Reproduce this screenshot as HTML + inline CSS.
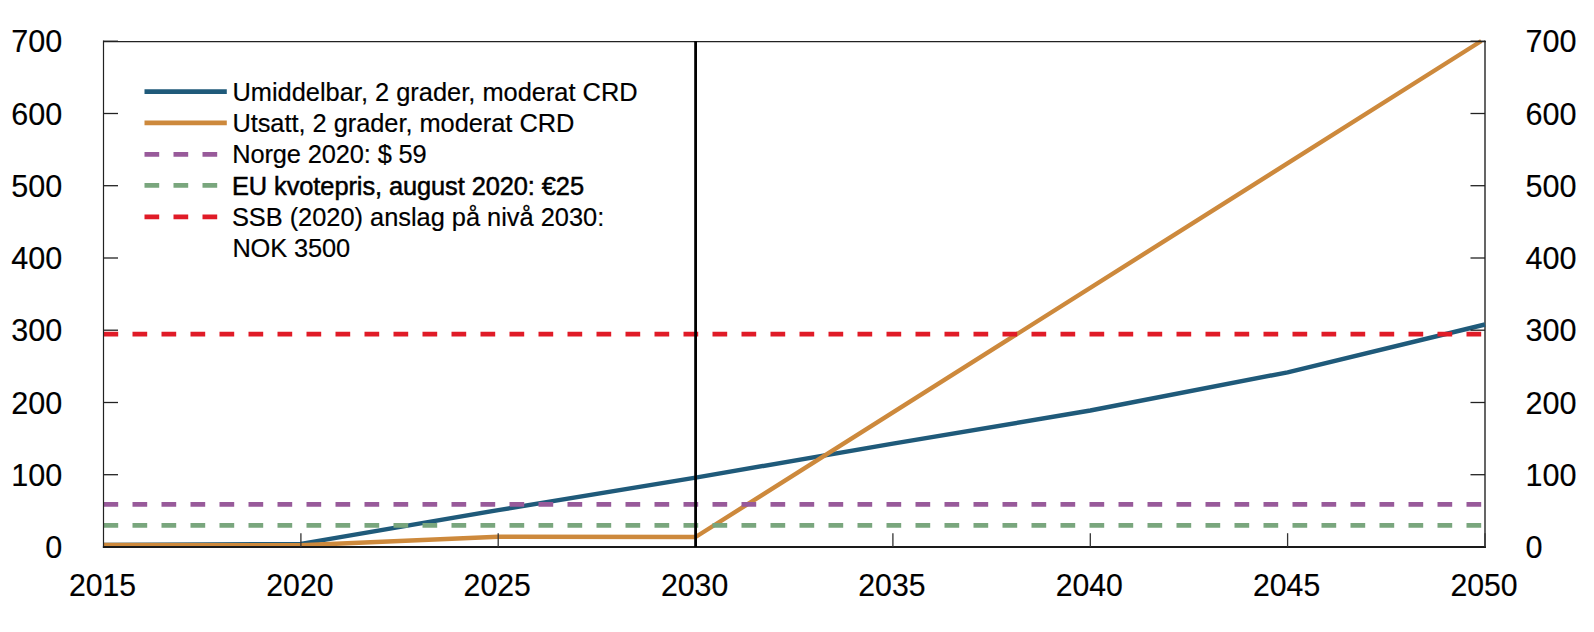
<!DOCTYPE html>
<html lang="no"><head><meta charset="utf-8"><title>Figur</title>
<style>
html,body{margin:0;padding:0;background:#fff;}
body{width:1594px;height:632px;overflow:hidden;}
svg{display:block;}
svg text{font-family:"Liberation Sans",Arial,Helvetica,sans-serif;fill:#000;}
.t{font-size:30.6px;stroke:#000;stroke-width:0.15px;}
.l{font-size:25.4px;}
</style></head><body>
<svg width="1594" height="632" viewBox="0 0 1594 632">
<rect x="0" y="0" width="1594" height="632" fill="#fff"/>
<line x1="1485.0" y1="40.6" x2="1485.0" y2="548.0" stroke="#555" stroke-width="1.8"/>
<polyline points="103.5,544.9 300.9,543.9 498.2,510.1 695.6,477.6 892.9,443.7 1090.3,410.5 1287.6,372.3 1485.0,324.5" fill="none" stroke="#1f5a7a" stroke-width="4.4" stroke-linejoin="round"/>
<polyline points="103.5,544.9 300.9,545.2 498.2,536.8 695.6,537.0 1481.3,41.0" fill="none" stroke="#cd893c" stroke-width="4.4" stroke-linejoin="round"/>
<line x1="103.5" y1="504.4" x2="1484.0" y2="504.4" stroke="#985a9a" stroke-width="4.8" stroke-dasharray="14.7 14.3"/>
<line x1="103.5" y1="525.4" x2="1484.0" y2="525.4" stroke="#79a67d" stroke-width="4.8" stroke-dasharray="14.7 14.3"/>
<line x1="103.5" y1="334.2" x2="1484.0" y2="334.2" stroke="#e01b27" stroke-width="4.8" stroke-dasharray="14.7 14.3"/>
<line x1="103.5" y1="40.6" x2="103.5" y2="548.0" stroke="#222" stroke-width="1.2"/>
<line x1="103.0" y1="41.5" x2="1485.9" y2="41.5" stroke="#222" stroke-width="1.25"/>
<line x1="102.9" y1="547.0" x2="1485.9" y2="547.0" stroke="#1a1a1a" stroke-width="2"/>
<line x1="103.5" y1="474.7" x2="118.0" y2="474.7" stroke="#222" stroke-width="1.3"/>
<line x1="1470.5" y1="474.7" x2="1485.0" y2="474.7" stroke="#222" stroke-width="1.3"/>
<line x1="103.5" y1="402.5" x2="118.0" y2="402.5" stroke="#222" stroke-width="1.3"/>
<line x1="1470.5" y1="402.5" x2="1485.0" y2="402.5" stroke="#222" stroke-width="1.3"/>
<line x1="103.5" y1="330.2" x2="118.0" y2="330.2" stroke="#222" stroke-width="1.3"/>
<line x1="1470.5" y1="330.2" x2="1485.0" y2="330.2" stroke="#222" stroke-width="1.3"/>
<line x1="103.5" y1="258.0" x2="118.0" y2="258.0" stroke="#222" stroke-width="1.3"/>
<line x1="1470.5" y1="258.0" x2="1485.0" y2="258.0" stroke="#222" stroke-width="1.3"/>
<line x1="103.5" y1="185.7" x2="118.0" y2="185.7" stroke="#222" stroke-width="1.3"/>
<line x1="1470.5" y1="185.7" x2="1485.0" y2="185.7" stroke="#222" stroke-width="1.3"/>
<line x1="103.5" y1="113.5" x2="118.0" y2="113.5" stroke="#222" stroke-width="1.3"/>
<line x1="1470.5" y1="113.5" x2="1485.0" y2="113.5" stroke="#222" stroke-width="1.3"/>
<line x1="103.5" y1="41.2" x2="118.0" y2="41.2" stroke="#222" stroke-width="1.3"/>
<line x1="1470.5" y1="41.2" x2="1485.0" y2="41.2" stroke="#222" stroke-width="1.3"/>
<line x1="300.9" y1="533.2" x2="300.9" y2="547.0" stroke="#333" stroke-width="1.3"/>
<line x1="498.2" y1="533.2" x2="498.2" y2="547.0" stroke="#333" stroke-width="1.3"/>
<line x1="695.6" y1="533.2" x2="695.6" y2="547.0" stroke="#333" stroke-width="1.3"/>
<line x1="892.9" y1="533.2" x2="892.9" y2="547.0" stroke="#333" stroke-width="1.3"/>
<line x1="1090.3" y1="533.2" x2="1090.3" y2="547.0" stroke="#333" stroke-width="1.3"/>
<line x1="1287.6" y1="533.2" x2="1287.6" y2="547.0" stroke="#333" stroke-width="1.3"/>
<line x1="1485.0" y1="533.2" x2="1485.0" y2="547.0" stroke="#333" stroke-width="1.3"/>
<line x1="695.6" y1="41.2" x2="695.6" y2="547.0" stroke="#000" stroke-width="2.8"/>
<text class="t" transform="translate(62.2,558.0) scale(1,1.005)" text-anchor="end">0</text>
<text class="t" transform="translate(1525.6,558.0) scale(1,1.005)">0</text>
<text class="t" transform="translate(62.2,486.1) scale(1,1.005)" text-anchor="end">100</text>
<text class="t" transform="translate(1525.6,486.1) scale(1,1.005)">100</text>
<text class="t" transform="translate(62.2,414.1) scale(1,1.005)" text-anchor="end">200</text>
<text class="t" transform="translate(1525.6,414.1) scale(1,1.005)">200</text>
<text class="t" transform="translate(62.2,341.1) scale(1,1.005)" text-anchor="end">300</text>
<text class="t" transform="translate(1525.6,341.1) scale(1,1.005)">300</text>
<text class="t" transform="translate(62.2,269.1) scale(1,1.005)" text-anchor="end">400</text>
<text class="t" transform="translate(1525.6,269.1) scale(1,1.005)">400</text>
<text class="t" transform="translate(62.2,197.1) scale(1,1.005)" text-anchor="end">500</text>
<text class="t" transform="translate(1525.6,197.1) scale(1,1.005)">500</text>
<text class="t" transform="translate(62.2,125.0) scale(1,1.005)" text-anchor="end">600</text>
<text class="t" transform="translate(1525.6,125.0) scale(1,1.005)">600</text>
<text class="t" transform="translate(62.2,52.0) scale(1,1.005)" text-anchor="end">700</text>
<text class="t" transform="translate(1525.6,52.0) scale(1,1.005)">700</text>
<text class="t" style="font-size:30.2px" transform="translate(102.5,596.2) scale(1,1.02)" text-anchor="middle">2015</text>
<text class="t" style="font-size:30.2px" transform="translate(299.9,596.2) scale(1,1.02)" text-anchor="middle">2020</text>
<text class="t" style="font-size:30.2px" transform="translate(497.2,596.2) scale(1,1.02)" text-anchor="middle">2025</text>
<text class="t" style="font-size:30.2px" transform="translate(694.6,596.2) scale(1,1.02)" text-anchor="middle">2030</text>
<text class="t" style="font-size:30.2px" transform="translate(891.9,596.2) scale(1,1.02)" text-anchor="middle">2035</text>
<text class="t" style="font-size:30.2px" transform="translate(1089.3,596.2) scale(1,1.02)" text-anchor="middle">2040</text>
<text class="t" style="font-size:30.2px" transform="translate(1286.6,596.2) scale(1,1.02)" text-anchor="middle">2045</text>
<text class="t" style="font-size:30.2px" transform="translate(1484.0,596.2) scale(1,1.02)" text-anchor="middle">2050</text>
<line x1="144.5" y1="91.6" x2="226.8" y2="91.6" stroke="#1f5a7a" stroke-width="4.8"/>
<line x1="144.5" y1="122.9" x2="226.8" y2="122.9" stroke="#cd893c" stroke-width="4.8"/>
<line x1="144.5" y1="154.3" x2="226.8" y2="154.3" stroke="#985a9a" stroke-width="4.8" stroke-dasharray="14.7 14.3"/>
<line x1="144.5" y1="185.4" x2="226.8" y2="185.4" stroke="#79a67d" stroke-width="4.8" stroke-dasharray="14.7 14.3"/>
<line x1="144.5" y1="216.8" x2="226.8" y2="216.8" stroke="#e01b27" stroke-width="4.8" stroke-dasharray="14.7 14.3"/>
<text class="l" transform="translate(232.50,100.80) scale(1,1.03)" textLength="405.1" lengthAdjust="spacing" stroke="#000" stroke-width="0.18">Umiddelbar, 2 grader, moderat CRD</text>
<text class="l" transform="translate(232.40,131.75) scale(1,1.03)" textLength="341.9" lengthAdjust="spacing" stroke="#000" stroke-width="0.18">Utsatt, 2 grader, moderat CRD</text>
<text class="l" transform="translate(232.30,162.75) scale(1,1.03)" textLength="194.4" lengthAdjust="spacing" stroke="#000" stroke-width="0.18">Norge 2020: $ 59</text>
<text class="l" transform="translate(232.00,194.80) scale(1,1.0)" textLength="352.0" lengthAdjust="spacing" stroke="#000" stroke-width="0.5">EU kvotepris, august 2020: €25</text>
<text class="l" transform="translate(231.90,225.75) scale(1,1.03)" textLength="372.3" lengthAdjust="spacing" stroke="#000" stroke-width="0.18">SSB (2020) anslag på nivå 2030:</text>
<text class="l" transform="translate(232.40,256.80) scale(1,1.03)" textLength="117.8" lengthAdjust="spacing" stroke="#000" stroke-width="0.18">NOK 3500</text>
</svg>
</body></html>
